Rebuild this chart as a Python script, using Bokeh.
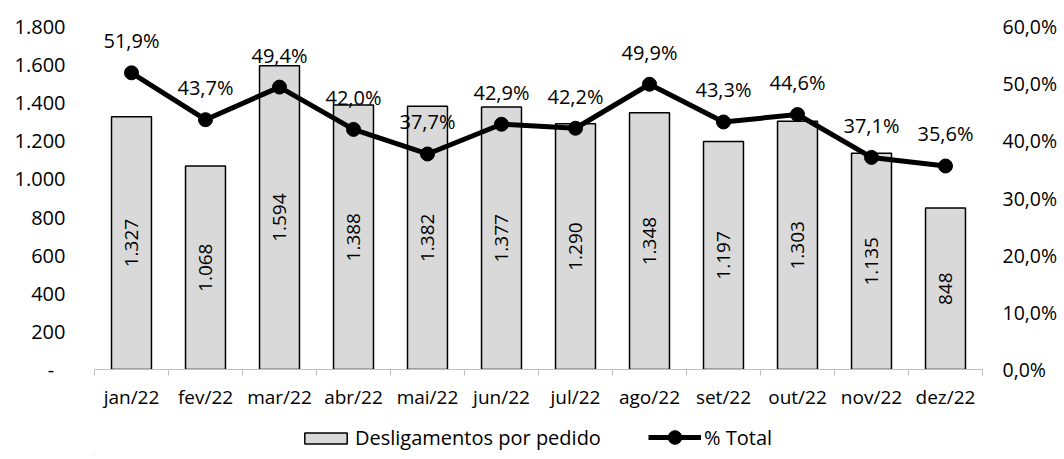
import math
from bokeh.plotting import figure
from bokeh.layouts import column
from bokeh.models import (Range1d, LinearAxis, FixedTicker, Legend, LegendItem,
                          ColumnDataSource)
from bokeh.core.properties import value
from bokeh.embed import file_html
from bokeh.resources import INLINE

months = ["jan/22", "fev/22", "mar/22", "abr/22", "mai/22", "jun/22",
          "jul/22", "ago/22", "set/22", "out/22", "nov/22", "dez/22"]
desligamentos = [1327, 1068, 1594, 1388, 1382, 1377, 1290, 1348, 1197, 1303, 1135, 848]
pct_total = [51.9, 43.7, 49.4, 42.0, 37.7, 42.9, 42.2, 49.9, 43.3, 44.6, 37.1, 35.6]
left_ticks = [0, 200, 400, 600, 800, 1000, 1200, 1400, 1600, 1800]
right_ticks = [0, 10, 20, 30, 40, 50, 60]
series_names = ["Desligamentos por pedido", "% Total"]

FONT = "Open Sans"
FS = "19px"
BAR_FILL = "#d9d9d9"

def fmt_int(v):
    return "{:,}".format(v).replace(",", ".")

def fmt_pct(v):
    return ("%.1f%%" % v).replace(".", ",")

xc = [i + 0.5 for i in range(len(months))]
src = ColumnDataSource(dict(
    x=xc,
    bar=desligamentos,
    barmid=[v / 2 for v in desligamentos],
    barlab=[fmt_int(v) for v in desligamentos],
    pct=pct_total,
    pctlab=[fmt_pct(v) for v in pct_total],
))

p = figure(width=1060, height=415, output_backend="svg", toolbar_location=None,
           x_range=Range1d(0, 12), y_range=Range1d(0, 1800),
           min_border_left=94, min_border_right=78, min_border_top=26,
           min_border_bottom=46)
p.extra_y_ranges = {"pct": Range1d(0, 60)}
p.outline_line_color = None
p.xgrid.visible = False
p.ygrid.visible = False

p.vbar(x="x", top="bar", width=0.54, source=src, fill_color=BAR_FILL,
       line_color="black", line_width=1.5)
p.text(x="x", y="barmid", text="barlab", source=src, angle=math.pi / 2,
       text_align="center", text_baseline="middle", text_color="black",
       text_font=value(FONT), text_font_size=FS)

p.line(x="x", y="pct", source=src, y_range_name="pct", line_color="black",
       line_width=5)
p.scatter(x="x", y="pct", source=src, y_range_name="pct", size=14,
          fill_color="black", line_color="black")
p.text(x="x", y="pct", text="pctlab", source=src, y_range_name="pct",
       y_offset=-32, text_align="center", text_baseline="middle",
       text_color="black", text_font=value(FONT), text_font_size="20px")

# x axis
xa = p.xaxis[0]
xa.ticker = FixedTicker(ticks=xc, minor_ticks=list(range(13)))
xa.major_label_overrides = {x: m for x, m in zip(xc, months)}
xa.major_tick_out = 0
xa.major_tick_in = 0
xa.minor_tick_out = 6
xa.minor_tick_in = 0
xa.minor_tick_line_color = "#bfbfbf"
xa.axis_line_color = "#bfbfbf"
xa.axis_line_width = 1
xa.major_label_standoff = 8
xa.major_label_text_font = FONT
xa.major_label_text_font_size = FS
xa.major_label_text_color = "black"

# left axis
ya = p.yaxis[0]
ya.ticker = FixedTicker(ticks=left_ticks)
ya.major_label_overrides = {t: ("-\u2007" if t == 0 else fmt_int(t)) for t in left_ticks}
ya.axis_line_color = None
ya.major_tick_line_color = None
ya.minor_tick_line_color = None
ya.major_tick_out = 0
ya.major_label_standoff = 29
ya.major_label_text_font = FONT
ya.major_label_text_font_size = "20px"
ya.major_label_text_color = "black"

# right axis
ra = LinearAxis(y_range_name="pct")
ra.ticker = FixedTicker(ticks=right_ticks)
ra.major_label_overrides = {t: fmt_pct(t) for t in right_ticks}
ra.axis_line_color = None
ra.major_tick_line_color = None
ra.minor_tick_line_color = None
ra.major_tick_out = 0
ra.major_label_standoff = 20
ra.major_label_text_font = FONT
ra.major_label_text_font_size = "19.5px"
ra.major_label_text_color = "black"
ra.major_label_text_align = "left"
p.add_layout(ra, "right")

# legend strip (separate figure so it is not clipped by the plot frame)
lf = figure(width=1060, height=40, output_backend="svg", toolbar_location=None,
            x_range=Range1d(0, 1), y_range=Range1d(0, 1),
            min_border=0)
lf.axis.visible = False
lf.grid.visible = False
lf.outline_line_color = None
dummy = ColumnDataSource(dict(x=[-100.0, -101.0], y=[-100.0, -101.0],
                              top=[-100.0, -101.0]))
lb = lf.vbar(x="x", top="top", width=0.5, source=dummy, fill_color=BAR_FILL,
             line_color="black", line_width=1.5)
ll = lf.line(x="x", y="y", source=dummy, line_color="black", line_width=5)
ls = lf.scatter(x="x", y="y", source=dummy, size=14, fill_color="black",
                line_color="black")

def style_legend(lg, gh):
    lg.label_text_font = FONT
    lg.label_text_font_size = "20px"
    lg.label_text_color = "black"
    lg.glyph_width = 53
    lg.glyph_height = gh
    lg.label_standoff = 3
    lg.border_line_color = None
    lg.background_fill_alpha = 0
    lg.padding = 0
    lg.margin = 0
    lg.orientation = "horizontal"

leg1 = Legend(items=[LegendItem(label=series_names[0], renderers=[lb])],
              location=(205, 4))
style_legend(leg1, 14)
leg2 = Legend(items=[LegendItem(label=series_names[1], renderers=[ll, ls])],
              location=(554, 1))
style_legend(leg2, 34)
lf.add_layout(leg1)
lf.add_layout(leg2)

layout = column(p, lf, spacing=0)
open("out.html", "w").write(file_html(layout, INLINE))
